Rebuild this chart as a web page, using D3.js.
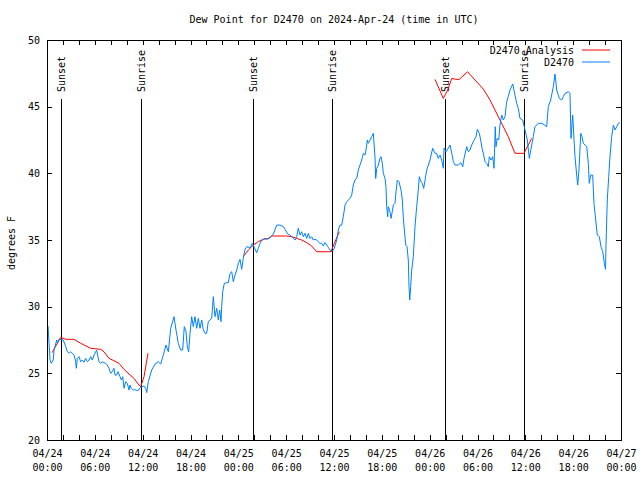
<!DOCTYPE html>
<html>
<head>
<meta charset="utf-8">
<script src="https://cdn.jsdelivr.net/npm/d3@7"></script>
<style>
  html, body { margin: 0; padding: 0; background: #fff; }
  svg { display: block; }
  text { font-family: "DejaVu Sans Mono", monospace; font-size: 10px; fill: #000; }
</style>
</head>
<body>
<svg id="chart" width="640" height="480"></svg>
<script>
// ---------------- DATA ----------------
const chartTitle = "Dew Point for D2470 on 2024-Apr-24 (time in UTC)";
const yLabel = "degrees F";
const seriesNames = ["D2470 Analysis", "D2470"];
const startUtc = Date.UTC(2024, 3, 24, 0, 0);   // 04/24 00:00 UTC
const endUtc = Date.UTC(2024, 3, 27, 0, 0);     // 04/27 00:00 UTC
const yTicks = [20, 25, 30, 35, 40, 45, 50];

// Observations (hours after 04/24 00:00 UTC, degrees F)
const obsHours = [
  0.13,0.38,0.54,0.79,0.88,1.22,1.29,1.51,1.79,2.04,2.35,2.55,2.76,2.97,3.17,3.39,3.60,3.68,3.80,4.01,
  4.23,4.43,4.64,4.85,5.06,5.27,5.48,5.68,5.90,6.11,6.23,6.52,6.74,6.94,7.15,7.36,7.56,7.78,7.99,8.19,
  8.40,8.53,8.74,8.91,9.16,9.32,9.50,9.66,9.87,10.07,10.29,10.41,10.57,10.83,11.00,11.25,11.50,11.75,12.17,12.38,
  12.51,
  12.71,13.13,13.55,13.96,14.26,14.59,14.93,15.22,15.52,15.93,16.18,16.47,16.77,17.02,17.22,17.44,17.60,17.77,17.94,18.15,
  18.35,18.56,18.78,18.98,19.19,19.41,19.61,19.82,20.03,20.23,20.45,20.66,20.86,21.07,21.29,21.49,21.66,21.83,21.91,22.04,
  22.24,22.54,22.74,22.96,23.17,23.37,23.58,23.80,24.00,24.21,24.42,24.62,24.84,25.05,25.38,
  25.46,25.75,26.00,26.30,26.51,26.72,26.93,27.13,27.35,27.60,27.85,28.10,28.39,28.81,29.23,29.64,29.85,30.19,30.48,30.69,
  30.90,31.11,31.32,31.52,31.74,31.95,32.15,32.36,32.58,32.78,32.99,33.20,33.40,33.62,33.83,34.03,34.24,34.46,34.66,34.87,
  35.09,35.29,35.50,35.71,35.91,36.04,
  36.34,36.54,36.75,36.97,37.17,37.38,37.59,38.01,38.22,38.42,38.63,38.85,39.05,39.26,39.48,39.68,39.89,40.01,40.18,40.30,
  40.52,40.73,40.93,41.14,41.23,41.36,41.56,41.77,41.90,42.06,42.19,42.40,42.52,42.61,42.74,42.81,43.03,43.15,43.31,43.44,
  43.65,43.78,43.94,44.15,44.41,44.57,44.69,44.82,45.00,45.16,45.32,45.41,45.50,45.62,45.75,45.95,46.16,46.37,46.57,46.70,
  46.91,47.08,47.25,
  47.63,48.04,48.38,48.67,48.88,49.08,49.30,49.51,49.71,49.80,50.05,50.34,50.55,50.77,50.97,51.18,51.59,51.89,52.15,52.31,
  52.65,52.85,53.06,53.27,53.47,53.81,53.98,54.23,54.40,54.57,54.73,54.94,55.15,55.36,55.48,55.70,55.91,56.07,56.23,56.32,
  56.48,56.66,56.82,57.04,57.24,57.45,57.66,57.86,58.08,58.42,58.70,58.92,59.12,59.33,59.67,59.96,60.25,60.50,60.80,61.00,
  61.21,
  61.63,62.09,62.68,62.88,63.18,63.51,63.72,63.94,64.26,64.56,64.76,64.98,65.39,65.60,65.73,65.94,66.11,66.23,66.44,66.57,
  66.73,66.95,67.11,67.27,67.49,67.70,67.90,68.02,68.20,68.45,68.61,68.83,69.03,69.28,69.49,69.71,69.91,70.06,70.12,70.28,
  70.46,70.62,70.83,71.04,71.25,71.46,71.66,71.88
];
const obsValues = [
  28.55,26.0,25.75,26.0,26.75,27.5,27.27,27.57,27.55,27.5,27.0,26.62,26.5,26.62,26.5,26.37,25.87,25.38,26.12,26.25,
  25.87,26.0,25.83,26.12,25.87,26.0,26.25,26.0,26.37,26.62,26.75,25.87,25.75,25.87,25.8,25.75,25.62,25.38,25.0,25.12,
  25.38,24.87,24.87,25.12,24.75,24.5,24.75,23.88,24.37,24.25,23.75,24.12,23.88,23.75,23.8,23.7,23.75,23.95,24.05,23.88,
  23.55,
  24.37,25.25,25.7,25.87,25.7,26.37,27.12,26.62,28.38,29.25,28.25,27.25,26.75,26.75,28.5,28.12,27.0,26.62,28.0,29.25,
  28.5,29.25,28.38,29.12,28.38,29.0,28.25,28.0,28.0,28.87,29.0,29.12,30.75,29.25,29.87,29.0,29.75,28.87,30.0,31.12,
  31.75,31.8,31.8,32.5,32.62,31.87,32.37,32.75,33.25,33.55,32.8,33.62,34.3,34.5,34.45,
  34.38,34.75,34.45,34.05,34.38,34.75,34.95,35.05,35.12,35.05,35.12,35.25,35.45,36.12,36.12,36.0,35.8,35.45,35.37,35.25,
  35.12,35.0,35.25,35.88,35.37,35.62,35.25,35.5,35.12,35.5,35.12,35.25,35.0,35.05,35.0,34.87,34.75,34.75,34.55,34.8,
  34.62,34.45,34.25,34.12,34.25,34.38,
  35.0,35.75,36.12,36.12,36.75,37.62,37.87,38.12,38.37,39.12,39.5,39.62,40.25,40.62,41.0,41.5,41.37,41.75,42.5,42.25,
  42.5,42.75,43.0,41.25,39.62,40.37,40.62,41.12,41.25,40.75,40.0,39.62,39.0,37.5,36.75,37.5,37.12,36.62,37.12,37.62,
  37.75,38.62,39.5,39.37,38.75,38.0,36.75,35.75,34.62,34.5,33.5,31.5,30.5,31.5,32.75,33.75,36.0,37.5,38.75,39.75,
  39.37,39.25,38.87,
  40.25,41.0,41.88,41.5,41.5,41.12,41.37,41.0,40.38,41.88,41.62,41.88,42.12,41.5,40.88,40.62,40.62,40.8,40.5,41.12,
  42.0,41.62,41.75,42.12,42.37,42.75,43.3,43.0,42.5,41.88,41.5,40.88,40.75,40.5,41.25,41.0,41.25,40.38,43.5,42.0,
  42.62,42.5,43.62,44.37,44.0,44.25,45.37,45.75,46.25,46.7,45.87,45.25,44.88,44.12,44.0,43.25,42.5,41.12,42.12,42.75,
  43.5,
  43.75,43.75,43.5,45.0,45.5,46.5,47.45,46.25,45.62,45.5,45.75,46.0,46.12,46.0,42.62,44.37,42.5,41.25,39.87,39.12,
  40.25,43.0,42.75,42.25,42.12,42.0,40.75,39.25,39.87,39.87,37.75,36.5,35.37,35.25,34.5,34.12,33.25,32.8,34.62,38.0,
  39.75,41.25,42.75,43.62,43.25,43.5,43.75,43.8
];

// Analysis (three separate runs; null marks a gap)
const analysisHours = [
  0.63,1.72,2.35,3.39,4.23,5.48,6.74,7.15,7.78,8.40,9.03,9.66,10.29,10.91,11.54,11.75,12.17,12.67,
  null,
  24.62,25.25,25.88,26.51,27.13,27.76,28.19,30.07,30.69,31.32,31.95,32.58,33.20,33.83,35.62,35.79,36.04,36.67,
  null,
  48.67,49.71,50.26,50.77,51.27,51.72,52.75,53.69,54.73,55.57,56.82,57.86,58.70,59.83,60.80
];
const analysisValues = [
  26.55,27.7,27.55,27.55,27.25,26.88,26.8,26.62,26.12,25.95,25.75,25.3,24.95,24.62,24.12,24.0,24.75,26.5,
  null,
  33.75,34.25,34.62,34.88,35.05,35.12,35.3,35.3,35.25,35.12,35.0,34.8,34.55,34.12,34.12,34.38,34.75,35.62,
  null,
  47.05,45.62,46.25,47.12,47.05,47.05,47.62,47.0,46.32,45.5,44.0,42.75,41.5,41.5,42.62
];

// Sun events (hours after 04/24 00:00 UTC)
const sunEventLabels = ["Sunset", "Sunrise", "Sunset", "Sunrise", "Sunset", "Sunrise"];
const sunEventHours = [1.80, 11.83, 25.87, 35.79, 49.93, 59.85];

// ---------------- CHART ----------------
const W = 640, H = 480;
const M = { left: 47, right: 19, top: 40, bottom: 40 };
const svg = d3.select("#chart");
const HOUR = 3600 * 1000;
const toDate = h => new Date(startUtc + h * HOUR);

const x = d3.scaleUtc().domain([new Date(startUtc), new Date(endUtc)]).range([M.left, W - M.right]);
const y = d3.scaleLinear().domain([20, 50]).range([H - M.bottom, M.top]);

const obs = obsHours.map((h, i) => ({ t: toDate(h), v: obsValues[i] }));
const ana = analysisHours.map((h, i) => ({ t: h == null ? null : toDate(h), v: analysisValues[i] }));

// Axes
const majorTicks = d3.utcHour.every(6).range(new Date(startUtc), new Date(endUtc + 1));
const minorTicks = d3.utcHour.every(2).range(new Date(startUtc), new Date(endUtc + 1));
const fmtDay = d3.utcFormat("%m/%d");
const fmtTime = d3.utcFormat("%H:%M");

const tick = 5;

const gMinorB = svg.append("g").attr("transform", `translate(0,${H - M.bottom})`)
  .call(d3.axisBottom(x).tickValues(minorTicks).tickSize(-tick).tickFormat(""));
const gMinorT = svg.append("g").attr("transform", `translate(0,${M.top})`)
  .call(d3.axisTop(x).tickValues(minorTicks).tickSize(-tick).tickFormat(""));

const gB = svg.append("g").attr("transform", `translate(0,${H - M.bottom})`)
  .call(d3.axisBottom(x).tickValues(majorTicks).tickSize(-tick).tickFormat(""));
gB.selectAll(".tick").append("text")
  .attr("text-anchor", "middle")
  .each(function(d) {
    const t = d3.select(this);
    t.append("tspan").attr("x", 0).attr("y", 17).text(fmtDay(d));
    t.append("tspan").attr("x", 0).attr("y", 31).text(fmtTime(d));
  });

const gL = svg.append("g").attr("transform", `translate(${M.left},0)`)
  .call(d3.axisLeft(y).tickValues(yTicks).tickSize(-tick).tickPadding(7).tickFormat(d3.format("d")));
const gR = svg.append("g").attr("transform", `translate(${W - M.right},0)`)
  .call(d3.axisRight(y).tickValues(yTicks).tickSize(-tick).tickFormat(""));

[gMinorB, gMinorT, gB, gL, gR].forEach(g => {
  g.select(".domain").remove();
  g.selectAll("line").attr("stroke", "#000").attr("stroke-width", 1).attr("shape-rendering", "crispEdges");
  g.selectAll("text").style("font-family", "'DejaVu Sans Mono', monospace").style("font-size", "10px").attr("fill", "#000");
});

// Sun event lines
const sunG = svg.append("g");
sunEventHours.forEach((h, i) => {
  const xp = Math.round(x(toDate(h))) + 0.5;
  sunG.append("line")
    .attr("x1", xp).attr("x2", xp)
    .attr("y1", y(20)).attr("y2", 99)
    .attr("stroke", "#000").attr("stroke-width", 1)
    .attr("shape-rendering", "crispEdges");
  sunG.append("text")
    .attr("transform", `translate(${xp},92) rotate(-90)`)
    .attr("dy", "0.35em")
    .attr("text-anchor", "start")
    .text(sunEventLabels[i]);
});

// Series lines
const line = d3.line()
  .defined(d => d.v != null && d.t != null)
  .x(d => x(d.t)).y(d => y(d.v));

svg.append("path").datum(ana)
  .attr("fill", "none").attr("stroke", "#ff0000").attr("stroke-width", 1)
  .attr("d", line);
svg.append("path").datum(obs)
  .attr("fill", "none").attr("stroke", "#0080ff").attr("stroke-width", 1)
  .attr("d", line);

// Frame
svg.append("rect")
  .attr("x", M.left + 0.5).attr("y", M.top + 0.5)
  .attr("width", W - M.left - M.right).attr("height", H - M.top - M.bottom)
  .attr("fill", "none").attr("stroke", "#000").attr("stroke-width", 1)
  .attr("shape-rendering", "crispEdges");

// Title (centred over the plot area)
svg.append("text").attr("x", (M.left + W - M.right) / 2).attr("y", 23).attr("text-anchor", "middle").text(chartTitle);

// Y label
svg.append("text")
  .attr("transform", `translate(11,243) rotate(-90)`)
  .attr("text-anchor", "middle").attr("dy", "0.35em")
  .text(yLabel);

// Legend
const legColors = ["#ff0000", "#0080ff"];
const legY = [50, 62];
seriesNames.forEach((n, i) => {
  svg.append("text").attr("x", 574).attr("y", legY[i]).attr("dy", "0.35em")
    .attr("text-anchor", "end").text(n);
  svg.append("line").attr("x1", 582).attr("x2", 610).attr("y1", legY[i]).attr("y2", legY[i])
    .attr("stroke", legColors[i]).attr("stroke-width", 1);
});
</script>
</body>
</html>
